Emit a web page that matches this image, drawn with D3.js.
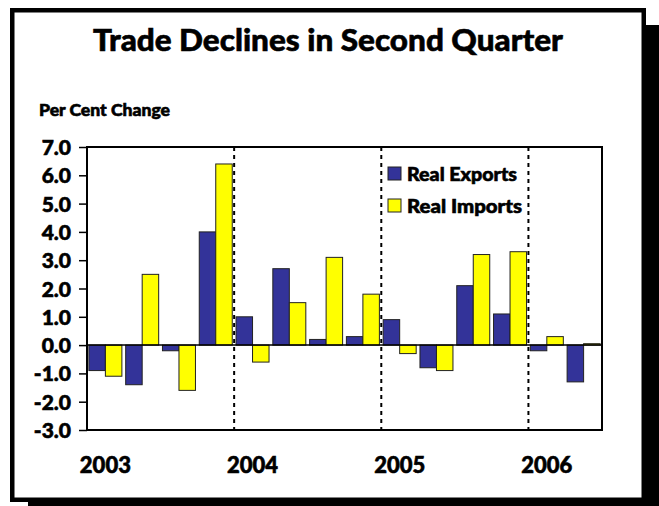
<!DOCTYPE html>
<html lang="en">
<head>
<meta charset="UTF-8">
<title>Trade Declines in Second Quarter</title>
<style>
	body { margin: 0; background: #fff; overflow: hidden; }
	svg { display: block; }
	text {
		font-family: Lato, "Open Sans", sans-serif;
		font-weight: 900;
		fill: #000;
		stroke: #000;
		stroke-width: 0.6px;
	}
	.axis path, .axis line { stroke: #000; }
</style>
<script src="https://d3js.org/d3.v7.min.js"></script>
</head>
<body>
<script>
	// quarterly % change, 2003 Q1 .. 2006 Q2
	const quarters = ["2003Q1","2003Q2","2003Q3","2003Q4","2004Q1","2004Q2","2004Q3","2004Q4",
		"2005Q1","2005Q2","2005Q3","2005Q4","2006Q1","2006Q2"];
	const realExports = [-0.9, -1.4, -0.2, 4.0, 1.0, 2.7, 0.2, 0.3, 0.9, -0.8, 2.1, 1.1, -0.2, -1.3];
	const realImports = [-1.1, 2.5, -1.6, 6.4, -0.6, 1.5, 3.1, 1.8, -0.3, -0.9, 3.2, 3.3, 0.3, 0.05];
	const seriesNames = ["Real Exports", "Real Imports"];
	const yearLabels = ["2003", "2004", "2005", "2006"];
	const yTicks = [-3, -2, -1, 0, 1, 2, 3, 4, 5, 6, 7];

	const W = 659, H = 506;
	const colors = { "Real Exports": "#333399", "Real Imports": "#ffff00" };
	const plot = { left: 87, right: 602, top: 147, bottom: 430 };

	const svg = d3.select("body").append("svg")
		.attr("width", W)
		.attr("height", H);

	// drop shadow + framed panel
	svg.append("rect")
		.attr("x", 28).attr("y", 25)
		.attr("width", 650).attr("height", 500)
		.attr("fill", "#000");
	svg.append("rect")
		.attr("x", 12.25).attr("y", 10.25)
		.attr("width", 631.5).attr("height", 489.5)
		.attr("fill", "#fff")
		.attr("stroke", "#000")
		.attr("stroke-width", 4.5);

	svg.append("text")
		.attr("x", 328).attr("y", 51)
		.attr("text-anchor", "middle")
		.attr("font-size", 31)
		.attr("textLength", 470)
		.attr("lengthAdjust", "spacingAndGlyphs")
		.text("Trade Declines in Second Quarter");

	svg.append("text")
		.attr("x", 39).attr("y", 116)
		.attr("font-size", 17)
		.attr("textLength", 131)
		.attr("lengthAdjust", "spacingAndGlyphs")
		.text("Per Cent Change");

	const x = d3.scaleBand()
		.domain(quarters)
		.range([plot.left, plot.right]);

	const x1 = d3.scaleBand()
		.domain(seriesNames)
		.range([0, x.bandwidth()])
		.paddingOuter(0.115);

	const y = d3.scaleLinear()
		.domain([-3, 7])
		.range([plot.bottom, plot.top]);

	// y axis
	const yAxis = svg.append("g")
		.attr("class", "axis")
		.attr("transform", `translate(${plot.left},0)`)
		.call(d3.axisLeft(y)
			.tickValues(yTicks)
			.tickSize(8)
			.tickPadding(8)
			.tickFormat(d => d.toFixed(1)));
	yAxis.select(".domain").remove();
	yAxis.selectAll("line").attr("stroke-width", 1.5);
	yAxis.selectAll("text")
		.attr("font-size", 21)
		.attr("dy", "0.36em");

	// year boundaries (dotted)
	const boundaries = yearLabels.slice(1).map(yr => x(yr + "Q1"));
	svg.selectAll(".divider")
		.data(boundaries)
		.join("line")
		.attr("class", "divider")
		.attr("x1", d => d).attr("x2", d => d)
		.attr("y1", plot.top).attr("y2", plot.bottom)
		.attr("stroke", "#000")
		.attr("stroke-width", 2)
		.attr("stroke-dasharray", "4,4");

	// bars
	const rows = quarters.map((q, i) => ({ q, vals: [realExports[i], realImports[i]] }));
	const groups = svg.selectAll(".qtr")
		.data(rows)
		.join("g")
		.attr("class", "qtr")
		.attr("transform", d => `translate(${x(d.q)},0)`);

	groups.selectAll("rect")
		.data(d => d.vals.map((v, j) => ({ name: seriesNames[j], v })))
		.join("rect")
		.attr("x", d => x1(d.name))
		.attr("width", x1.bandwidth())
		.attr("y", d => y(Math.max(0, d.v)))
		.attr("height", d => Math.abs(y(d.v) - y(0)))
		.attr("fill", d => colors[d.name])
		.attr("stroke", "#222")
		.attr("stroke-width", 1);

	// zero line
	svg.append("line")
		.attr("x1", plot.left).attr("x2", plot.right)
		.attr("y1", y(0)).attr("y2", y(0))
		.attr("stroke", "#000")
		.attr("stroke-width", 1.5);

	// plot frame
	svg.append("rect")
		.attr("x", plot.left).attr("y", plot.top)
		.attr("width", plot.right - plot.left)
		.attr("height", plot.bottom - plot.top)
		.attr("fill", "none")
		.attr("stroke", "#000")
		.attr("stroke-width", 2);

	// year labels under first quarter of each year
	svg.selectAll(".year")
		.data(yearLabels)
		.join("text")
		.attr("class", "year")
		.attr("x", d => x(d + "Q1") + x.bandwidth() / 2)
		.attr("y", 473)
		.attr("text-anchor", "middle")
		.attr("font-size", 22)
		.text(d => d);

	// legend
	const legend = svg.selectAll(".legend")
		.data(seriesNames)
		.join("g")
		.attr("class", "legend")
		.attr("transform", (d, i) => `translate(388,${167 + i * 32})`);
	legend.append("rect")
		.attr("width", 13).attr("height", 13)
		.attr("fill", d => colors[d])
		.attr("stroke", "#222")
		.attr("stroke-width", 1);
	legend.append("text")
		.attr("x", 19).attr("y", 13.5)
		.attr("font-size", 19)
		.attr("textLength", (d, i) => i === 0 ? 110 : 115)
		.attr("lengthAdjust", "spacingAndGlyphs")
		.text(d => d);
</script>
</body>
</html>
